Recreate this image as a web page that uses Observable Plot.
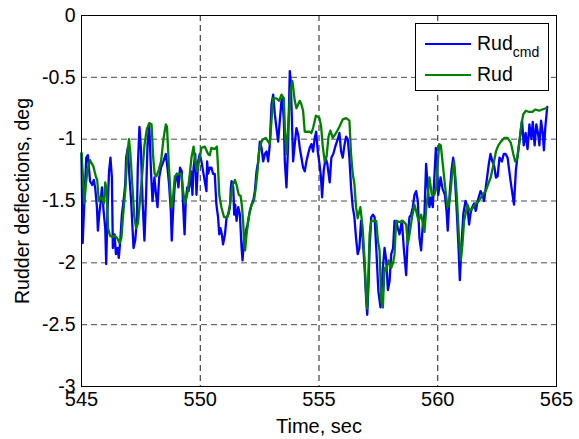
<!DOCTYPE html>
<html>
<head>
<meta charset="utf-8">
<script src="https://cdn.jsdelivr.net/npm/d3@7"></script>
<script src="https://cdn.jsdelivr.net/npm/@observablehq/plot@0.6"></script>
<style>
  html, body { margin: 0; padding: 0; background: #fff; }
  #wrap { position: relative; width: 579px; height: 439px; font-family: "Liberation Sans", Arial, sans-serif; }
  #legend { position: absolute; left: 415px; top: 23px; width: 134px; height: 68px; box-sizing: border-box;
            border: 1px solid #000; background: #fff; }
  .sw { position: absolute; left: 9px; width: 46px; height: 2px; }
  .lab { position: absolute; left: 61px; font-size: 19.5px; line-height: 20px; white-space: nowrap; color: #000; }
  .lab sub { font-size: 14px; vertical-align: -7px; line-height: 0; }
</style>
</head>
<body>
<div id="wrap"></div>
<script>
// ---- axis ticks ----
const xTicks = [545, 550, 555, 560, 565];
const yTicks = [0, -0.5, -1, -1.5, -2, -2.5, -3];

// ---- Rud_cmd (blue) ----
const cmdTime = [545.00,545.05,545.12,545.20,545.27,545.36,545.45,545.52,545.58,545.65,545.69,545.75,545.80,545.86,545.93,546.00,546.04,546.09,546.16,546.22,546.28,546.32,546.39,546.45,546.52,546.57,546.64,546.70,546.77,546.84,546.88,546.95,547.02,547.09,547.19,547.26,547.33,547.37,547.44,547.50,547.57,547.65,547.72,547.78,547.85,547.93,547.99,548.07,548.14,548.20,548.27,548.35,548.45,548.55,548.62,548.69,548.76,548.80,548.87,548.94,549.01,549.08,549.15,549.22,549.29,549.34,549.39,549.45,549.51,549.58,549.62,549.67,549.72,549.79,549.84,549.91,549.98,550.05,550.12,550.19,550.26,550.29,550.33,550.40,550.47,550.54,550.61,550.68,550.75,550.80,550.85,550.91,550.96,551.04,551.11,551.18,551.25,551.29,551.32,551.39,551.43,551.47,551.53,551.60,551.67,551.74,551.78,551.84,551.92,551.99,552.09,552.16,552.23,552.30,552.37,552.44,552.51,552.58,552.65,552.72,552.79,552.86,552.93,553.00,553.07,553.14,553.21,553.28,553.35,553.42,553.46,553.52,553.56,553.63,553.70,553.77,553.81,553.86,553.91,553.98,554.05,554.12,554.19,554.26,554.33,554.40,554.47,554.54,554.61,554.68,554.75,554.82,554.88,554.95,555.02,555.08,555.13,555.20,555.28,555.35,555.45,555.52,555.60,555.70,555.79,555.86,555.93,556.00,556.07,556.14,556.21,556.28,556.35,556.42,556.49,556.56,556.63,556.70,556.77,556.84,556.92,556.99,557.03,557.08,557.13,557.20,557.27,557.34,557.41,557.50,557.59,557.64,557.69,557.76,557.83,557.90,557.97,558.04,558.12,558.18,558.25,558.32,558.39,558.49,558.57,558.67,558.74,558.81,558.88,558.95,559.02,559.09,559.16,559.23,559.30,559.37,559.44,559.51,559.58,559.65,559.72,559.79,559.86,559.92,559.97,560.02,560.12,560.20,560.30,560.37,560.42,560.50,560.58,560.65,560.72,560.80,560.88,560.93,561.00,561.08,561.17,561.25,561.32,561.38,561.45,561.53,561.60,561.68,561.80,561.88,561.95,562.05,562.15,562.22,562.30,562.38,562.45,562.52,562.60,562.70,562.78,562.86,562.94,563.06,563.15,563.21,563.29,563.38,563.48,563.55,563.62,563.70,563.78,563.86,563.94,564.00,564.08,564.15,564.22,564.28,564.35,564.42,564.47,564.53,564.58,564.61];
const cmdValue = [-1.12,-1.84,-1.50,-1.15,-1.13,-1.34,-1.37,-1.33,-1.40,-1.55,-1.74,-1.60,-1.52,-1.39,-1.58,-1.72,-2.01,-1.60,-1.26,-1.15,-1.31,-1.88,-1.77,-1.93,-1.88,-1.96,-1.80,-1.61,-1.50,-1.37,-1.15,-1.07,-1.31,-1.50,-1.88,-1.82,-1.66,-1.23,-0.90,-1.07,-1.50,-1.82,-1.45,-1.04,-0.88,-1.28,-1.50,-1.31,-1.45,-1.55,-1.31,-1.23,-1.18,-1.12,-1.23,-1.37,-1.58,-1.82,-1.53,-1.34,-1.28,-1.39,-1.23,-1.26,-1.58,-1.77,-1.50,-1.39,-1.42,-1.34,-1.26,-1.45,-1.23,-1.12,-1.45,-1.18,-1.12,-1.18,-1.26,-1.34,-1.42,-1.18,-1.28,-1.23,-1.23,-1.28,-1.28,-1.53,-1.63,-1.77,-1.72,-1.77,-1.85,-1.77,-1.63,-1.61,-1.55,-1.39,-1.34,-1.39,-1.61,-1.53,-1.66,-1.55,-1.61,-1.88,-1.98,-1.82,-1.74,-1.69,-1.58,-1.53,-1.50,-1.42,-1.26,-1.18,-1.02,-1.07,-1.18,-1.12,-1.10,-1.18,-1.04,-0.72,-0.64,-0.80,-0.91,-1.02,-0.85,-0.69,-0.67,-0.85,-1.18,-1.39,-1.04,-0.45,-0.53,-0.85,-1.18,-1.04,-0.91,-0.96,-1.07,-1.15,-1.23,-1.26,-1.18,-1.12,-1.07,-1.04,-1.10,-0.99,-0.94,-1.10,-1.20,-1.30,-1.47,-1.25,-1.15,-1.20,-1.35,-1.15,-1.12,-1.05,-1.00,-0.95,-1.10,-1.15,-1.05,-0.98,-1.00,-1.15,-1.39,-1.55,-1.63,-1.80,-1.93,-1.88,-1.66,-1.80,-2.04,-2.31,-2.42,-2.20,-1.88,-1.63,-1.61,-1.63,-1.88,-2.23,-2.36,-2.20,-2.04,-1.88,-1.98,-2.22,-2.15,-1.93,-1.88,-1.66,-1.66,-1.72,-1.77,-1.66,-1.88,-2.10,-1.77,-1.63,-1.61,-1.55,-1.45,-1.42,-1.50,-1.80,-1.90,-1.69,-1.61,-1.20,-1.39,-1.55,-1.47,-1.55,-1.30,-1.07,-1.20,-1.45,-1.31,-1.40,-1.45,-1.58,-1.74,-1.45,-1.25,-1.15,-1.30,-1.58,-1.90,-2.14,-1.85,-1.60,-1.50,-1.55,-1.69,-1.60,-1.55,-1.52,-1.58,-1.50,-1.42,-1.45,-1.50,-1.35,-1.20,-1.12,-1.18,-1.22,-1.31,-1.30,-1.15,-1.18,-1.12,-1.12,-1.15,-1.33,-1.45,-1.53,-1.25,-1.10,-0.96,-0.85,-1.05,-0.95,-1.08,-0.88,-1.00,-0.86,-1.05,-0.88,-0.95,-1.05,-0.85,-0.95,-1.09,-0.90,-0.80,-0.74];

// ---- Rud (green) ----
const rudTime = [545.00,545.06,545.12,545.18,545.25,545.36,545.50,545.60,545.66,545.73,545.80,545.88,545.94,546.00,546.05,546.12,546.20,546.30,546.40,546.50,546.60,546.68,546.75,546.85,546.93,547.00,547.06,547.15,547.22,547.30,547.38,547.46,547.55,547.65,547.75,547.85,547.95,548.02,548.08,548.15,548.25,548.35,548.45,548.55,548.60,548.68,548.78,548.85,548.93,549.05,549.20,549.28,549.35,549.45,549.55,549.63,549.72,549.80,549.86,549.95,550.05,550.19,550.33,550.40,550.47,550.61,550.70,550.75,550.80,550.89,551.00,551.15,551.25,551.36,551.46,551.53,551.62,551.70,551.76,551.81,551.85,551.89,551.95,552.06,552.16,552.26,552.34,552.41,552.48,552.58,552.65,552.76,552.86,552.93,553.00,553.07,553.21,553.32,553.42,553.52,553.57,553.63,553.70,553.80,553.88,553.98,554.05,554.12,554.19,554.26,554.33,554.40,554.50,554.61,554.68,554.75,554.87,554.95,555.02,555.09,555.16,555.24,555.32,555.40,555.48,555.58,555.72,555.86,556.00,556.14,556.28,556.35,556.42,556.49,556.56,556.63,556.74,556.84,556.92,556.99,557.03,557.08,557.13,557.20,557.34,557.41,557.48,557.55,557.62,557.69,557.76,557.83,557.93,558.04,558.12,558.18,558.25,558.39,558.53,558.67,558.74,558.81,558.91,559.02,559.09,559.19,559.30,559.44,559.52,559.58,559.65,559.75,559.86,559.93,560.00,560.06,560.13,560.27,560.35,560.41,560.50,560.60,560.69,560.80,560.90,560.97,561.04,561.11,561.25,561.35,561.46,561.60,561.74,561.88,562.02,562.15,562.23,562.35,562.45,562.55,562.66,562.80,562.94,563.08,563.18,563.26,563.36,563.45,563.52,563.60,563.71,563.85,563.99,564.10,564.27,564.40,564.55];
const rudValue = [-1.11,-1.30,-1.52,-1.38,-1.25,-1.17,-1.22,-1.30,-1.33,-1.50,-1.47,-1.48,-1.52,-1.35,-1.40,-1.72,-1.78,-1.79,-1.78,-1.80,-1.84,-1.80,-1.62,-1.40,-1.12,-1.00,-1.12,-1.40,-1.62,-1.72,-1.68,-1.50,-1.30,-1.05,-0.92,-0.87,-0.88,-1.15,-1.28,-1.30,-1.25,-1.18,-1.00,-0.88,-0.90,-1.22,-1.55,-1.48,-1.30,-1.28,-1.28,-1.42,-1.52,-1.45,-1.30,-1.15,-1.06,-1.20,-1.26,-1.18,-1.07,-1.06,-1.12,-1.13,-1.07,-1.08,-1.06,-1.23,-1.45,-1.55,-1.63,-1.63,-1.53,-1.37,-1.33,-1.37,-1.45,-1.46,-1.55,-1.68,-1.86,-1.90,-1.77,-1.61,-1.53,-1.50,-1.39,-1.26,-1.10,-1.02,-1.00,-0.99,-1.02,-1.04,-0.85,-0.67,-0.67,-0.69,-0.64,-0.67,-0.95,-1.12,-0.90,-0.61,-0.53,-0.69,-0.75,-0.72,-0.69,-0.72,-0.77,-0.94,-0.94,-0.94,-0.95,-0.91,-0.81,-0.82,-0.83,-0.90,-1.06,-1.18,-1.14,-0.98,-0.93,-0.99,-0.95,-0.90,-0.84,-0.83,-0.85,-1.12,-1.28,-1.36,-1.55,-1.64,-1.55,-1.72,-1.98,-2.28,-2.37,-2.10,-1.77,-1.66,-1.66,-1.66,-1.82,-1.90,-2.31,-2.36,-2.04,-2.06,-1.98,-2.04,-2.00,-1.93,-1.66,-1.67,-1.66,-1.69,-1.85,-1.77,-1.64,-1.53,-1.58,-1.66,-1.61,-1.75,-1.55,-1.45,-1.31,-1.45,-1.45,-1.40,-1.20,-1.04,-1.05,-1.31,-1.45,-1.55,-1.50,-1.30,-1.18,-1.45,-1.82,-1.98,-1.85,-1.66,-1.53,-1.58,-1.56,-1.52,-1.50,-1.45,-1.42,-1.35,-1.31,-1.20,-1.10,-1.05,-1.02,-0.99,-0.99,-1.03,-1.12,-1.18,-1.15,-1.00,-0.88,-0.80,-0.77,-0.78,-0.78,-0.76,-0.77,-0.76,-0.75];

const cmd = cmdTime.map((t, i) => ({t, v: cmdValue[i]}));
const rud = rudTime.map((t, i) => ({t, v: rudValue[i]}));

const chart = Plot.plot({
  width: 579,
  height: 439,
  marginLeft: 81,
  marginRight: 23,
  marginTop: 15,
  marginBottom: 53,
  style: {fontFamily: "'Liberation Sans', Arial, sans-serif", fontSize: "19px", background: "#fff", color: "#000", overflow: "visible"},
  x: {domain: [545, 565]},
  y: {domain: [-3, 0]},
  marks: [
    Plot.gridX(xTicks, {stroke: "#000", strokeOpacity: 0.9, strokeDasharray: "6,4"}),
    Plot.gridY(yTicks, {stroke: "#000", strokeOpacity: 0.7, strokeDasharray: "6,4"}),
    Plot.line(cmd, {x: "t", y: "v", stroke: "#0000ff", strokeWidth: 2.3}),
    Plot.line(rud, {x: "t", y: "v", stroke: "#008000", strokeWidth: 2.3}),
    Plot.frame({stroke: "#000", strokeWidth: 1}),
    Plot.axisX(xTicks, {anchor: "bottom", tickSize: 0, tickPadding: 5, tickFormat: d => String(d), fontSize: 20,
      label: "Time, sec", labelAnchor: "center", labelArrow: "none", labelOffset: 46}),
    Plot.axisY(yTicks, {anchor: "left", tickSize: 0, tickPadding: 6, tickFormat: d => String(d), fontSize: 19.5,
      label: "Rudder deflections, deg", labelAnchor: "center", labelArrow: "none", labelOffset: 66})
  ]
});

const wrap = document.getElementById("wrap");
wrap.appendChild(chart);

const legend = document.createElement("div");
legend.id = "legend";
legend.innerHTML =
  '<div class="sw" style="top:19px;background:#0000ff"></div>' +
  '<div class="lab" style="top:9px">Rud<sub>cmd</sub></div>' +
  '<div class="sw" style="top:50px;background:#008000"></div>' +
  '<div class="lab" style="top:40px">Rud</div>';
wrap.appendChild(legend);
</script>
</body>
</html>
